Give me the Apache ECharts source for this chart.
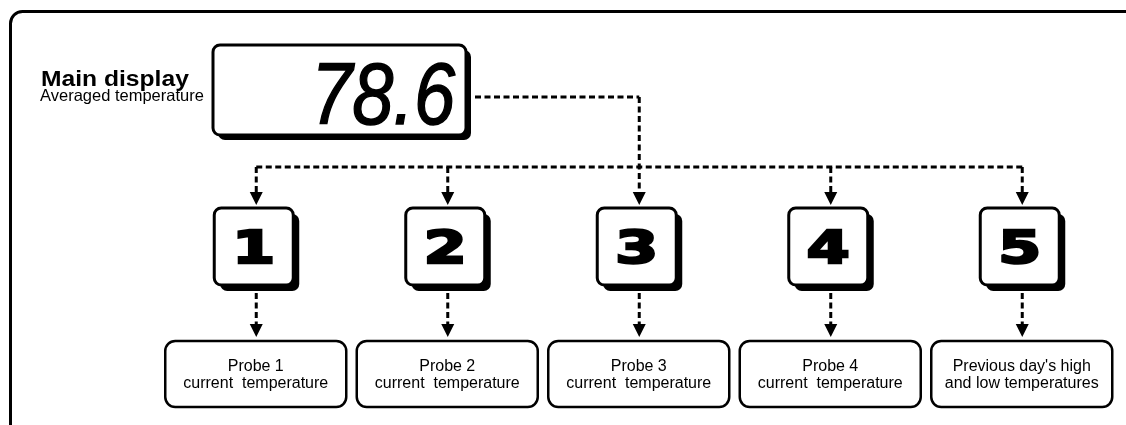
<!DOCTYPE html>
<html>
<head>
<meta charset="utf-8">
<title>Main display</title>
<script src="https://cdn.jsdelivr.net/npm/echarts@6/dist/echarts.min.js"></script>
<style>
  html, body { margin: 0; padding: 0; background: #fff; }
  #chart { width: 1126px; height: 425px; }
</style>
</head>
<body>
<div id="chart"></div>
<script>
// 数据
const channels = ['1', '2', '3', '4', '5']
const channelTitles = ['Probe 1', 'Probe 2', 'Probe 3', 'Probe 4', "Previous day's high"]
const channelSubtitles = [
  'current  temperature',
  'current  temperature',
  'current  temperature',
  'current  temperature',
  'and low temperatures'
]
const displayValue = '78.6'
const displayTitle = 'Main display'
const displaySubtitle = 'Averaged temperature'
const fedChannel = 2 // 主显示的虚线落到第 3 个按钮

// 布局（y 轴就是像素）
const FEED_Y = 97
const BUS_Y = 167
const TILE_TOP = 208
const TILE_W = 79
const TILE_H = 77
const CARD_TOP = 341
const CARD_W = 181
const CARD_H = 66
const BOX = { x: 213, y: 45, w: 253, h: 90 }

const FONT = '"Liberation Sans", Arial, sans-serif'
const dashStyle = { stroke: '#000', lineWidth: 3, lineDash: [6, 3.5], lineCap: 'butt' }

function dashed(x1, y1, x2, y2) {
  return { type: 'line', shape: { x1, y1, x2, y2 }, style: dashStyle }
}
function arrowHead(cx, tip) {
  return {
    type: 'polygon',
    shape: { points: [[cx - 6.5, tip - 13], [cx + 6.5, tip - 13], [cx, tip]] },
    style: { fill: '#000' }
  }
}

// 数字按钮
function renderTile(params, api) {
  const cx = api.coord([api.value(0), 0])[0]
  const top = api.coord([0, TILE_TOP])[1]
  const x = cx - 42
  return {
    type: 'group',
    children: [
      { type: 'rect', shape: { x: x + 6, y: top + 6, width: TILE_W, height: TILE_H, r: 7 }, style: { fill: '#000' } },
      { type: 'rect', shape: { x, y: top, width: TILE_W, height: TILE_H, r: 7 }, style: { fill: '#fff', stroke: '#000', lineWidth: 3 } },
      {
        type: 'text', x: x + TILE_W / 2, y: top + TILE_H / 2 + 5, scaleX: 1.4,
        style: {
          text: channels[params.dataIndex], font: 'bold 44px "DejaVu Sans"',
          fill: '#000', stroke: '#000', lineWidth: 2.5, align: 'center', verticalAlign: 'middle'
        }
      }
    ]
  }
}

// 说明框
function renderCard(params, api) {
  const cx = api.coord([api.value(0), 0])[0]
  const top = api.coord([0, CARD_TOP])[1]
  const i = params.dataIndex
  return {
    type: 'group',
    children: [
      { type: 'rect', shape: { x: cx - 91, y: top, width: CARD_W, height: CARD_H, r: 10 }, style: { fill: '#fff', stroke: '#000', lineWidth: 2.5 } },
      { type: 'text', x: cx - 0.5, y: top + 25.5, style: { text: channelTitles[i], font: '16px ' + FONT, fill: '#000', align: 'center', verticalAlign: 'middle' } },
      { type: 'text', x: cx - 0.5, y: top + 43, style: { text: channelSubtitles[i], font: '16px ' + FONT, fill: '#000', align: 'center', verticalAlign: 'middle' } }
    ]
  }
}

// 竖向虚线箭头
function renderDrop(params, api) {
  const i = api.value(0)
  const cx = api.coord([i, 0])[0]
  const from = i === fedChannel ? FEED_Y : BUS_Y
  return {
    type: 'group',
    children: [
      dashed(cx, from, cx, TILE_TOP - 16),
      arrowHead(cx, TILE_TOP - 3),
      dashed(cx, TILE_TOP + TILE_H + 8, cx, CARD_TOP - 17),
      arrowHead(cx, CARD_TOP - 4)
    ]
  }
}

// 横向虚线
function renderBus(params, api) {
  const first = api.coord([0, BUS_Y])
  const last = api.coord([channels.length - 1, BUS_Y])
  const fed = api.coord([fedChannel, FEED_Y])
  return {
    type: 'group',
    children: [
      dashed(first[0], first[1], last[0], last[1]),
      dashed(BOX.x + BOX.w + 9, FEED_Y, fed[0], FEED_Y)
    ]
  }
}

const chartConfig = {
  animation: false,
  grid: { left: 160.5, right: 8, top: 0, bottom: 0 },
  xAxis: { type: 'category', data: channels, show: false },
  yAxis: { type: 'value', min: 0, max: 425, inverse: true, show: false },
  graphic: [
    // 外框
    { type: 'rect', z: 0, shape: { x: 10.5, y: 11.5, width: 1300, height: 600, r: 12 }, style: { fill: 'none', stroke: '#000', lineWidth: 3 } },
    { type: 'text', x: 41, y: 80, scaleX: 1.12, style: { text: displayTitle, font: 'bold 22px ' + FONT, fill: '#000', verticalAlign: 'middle' } },
    { type: 'text', x: 40, y: 96, style: { text: displaySubtitle, font: '16.5px ' + FONT, fill: '#000', verticalAlign: 'middle' } },
    // 主显示框
    { type: 'rect', shape: { x: BOX.x + 5, y: BOX.y + 5, width: BOX.w, height: BOX.h, r: 7 }, style: { fill: '#000' } },
    { type: 'rect', shape: { x: BOX.x, y: BOX.y, width: BOX.w, height: BOX.h, r: 7 }, style: { fill: '#fff', stroke: '#000', lineWidth: 3 } },
    {
      type: 'text', x: 455, y: 99.5, scaleX: 0.84,
      style: { text: displayValue, font: 'italic 88px ' + FONT, fill: '#000', stroke: '#000', lineWidth: 1.5, align: 'right', verticalAlign: 'middle' }
    }
  ],
  series: [
    { type: 'custom', name: 'bus', renderItem: renderBus, data: [[0]], silent: true },
    { type: 'custom', name: 'drops', renderItem: renderDrop, data: channels.map((c, i) => [i]), silent: true },
    { type: 'custom', name: 'tiles', renderItem: renderTile, data: channels.map((c, i) => [i]), silent: true },
    { type: 'custom', name: 'cards', renderItem: renderCard, data: channels.map((c, i) => [i]), silent: true }
  ]
}

const chart = echarts.init(document.getElementById('chart'), null, { renderer: 'canvas' })
chart.setOption(chartConfig)
</script>
</body>
</html>
